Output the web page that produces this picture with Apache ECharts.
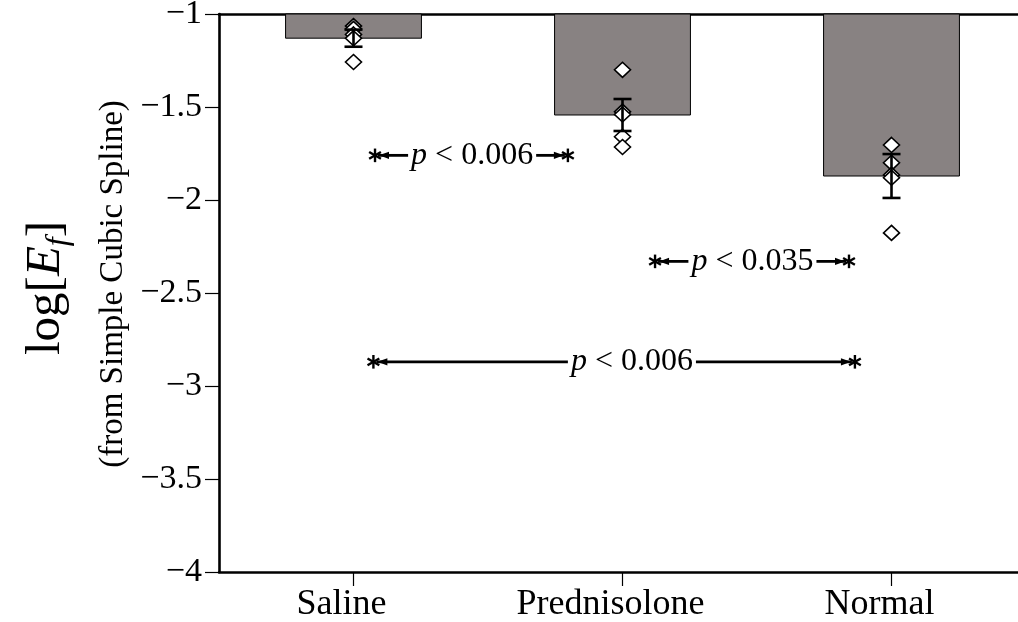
<!DOCTYPE html>
<html><head><meta charset="utf-8">
<script src="https://cdn.jsdelivr.net/npm/echarts@6/dist/echarts.min.js"></script>
<style>html,body{margin:0;padding:0;background:#fff}#c{width:1018px;height:622px}</style>
</head><body><div id="c"></div>
<script>
// ---- data ----
const categories = ['Saline', 'Prednisolone', 'Normal'];
const barMeans = [-1.13, -1.543, -1.871];
const semValues = [0.046, 0.086, 0.118];
const salinePoints = [-1.065, -1.08, -1.11, -1.13, -1.258];
const prednisolonePoints = [-1.30, -1.525, -1.54, -1.66, -1.715];
const normalPoints = [-1.704, -1.80, -1.865, -1.88, -2.177];
const yTickValues = [-4, -3.5, -3, -2.5, -2, -1.5, -1];
const pLabels = ['0.006', '0.035', '0.006'];
const pY = [-1.76, -2.33, -2.87];
const pLeft = [0.08, 1.121, 0.074];
const pRight = [0.797, 1.842, 1.864];
const pTextX = [0.441, 1.483, 1.035];

// ---- helpers ----
const FONT = 'Liberation Serif';
const mctx = document.createElement('canvas').getContext('2d');
function textW(s, f) { mctx.font = f; return mctx.measureText(s).width; }
function fmtTick(v) { return (v < 0 ? '\u2212' : '') + Math.abs(v); }

const pointSets = [salinePoints, prednisolonePoints, normalPoints];
const scatterData = [];
pointSets.forEach((arr, i) => arr.forEach(v => scatterData.push([i, v])));
const barData = barMeans.map((m, i) => [i, m]);
const errData = barMeans.map((m, i) => [i, m, semValues[i]]);
const pData = pLabels.map((l, i) => [pLeft[i], pRight[i], pY[i], pTextX[i]]);

const chart = echarts.init(document.getElementById('c'), null, {renderer: 'canvas'});
const axisColor = '#000';
const option = {
  animation: false,
  backgroundColor: '#fff',
  grid: {left: 219, top: 14, width: 807, bottom: 50, containLabel: false, outerBoundsMode: 'none'},
  xAxis: [{
    type: 'category',
    data: categories,
    position: 'bottom',
    axisLine: {show: true, lineStyle: {color: axisColor, width: 2.6}},
    axisTick: {show: true, alignWithLabel: true, interval: 0, length: 14, lineStyle: {color: axisColor, width: 1.2}},
    axisLabel: {color: '#000', fontFamily: FONT, fontSize: 36, margin: 15, interval: 0, padding: [0, 24, 0, 0]},
    splitLine: {show: false}
  }, {
    type: 'value',
    min: -0.5, max: 2.5,
    position: 'top',
    axisLine: {show: true, onZero: false, lineStyle: {color: axisColor, width: 2.6}},
    axisTick: {show: false},
    axisLabel: {show: false},
    splitLine: {show: false}
  }],
  yAxis: [{
    type: 'value',
    min: -4, max: -1, interval: 0.5,
    axisLine: {show: true, onZero: false, lineStyle: {color: axisColor, width: 2.6}},
    axisTick: {show: true, length: 14, lineStyle: {color: axisColor, width: 1.2}},
    axisLabel: {color: '#000', fontFamily: FONT, fontSize: 34, margin: 17,
      formatter: v => fmtTick(yTickValues.find(t => Math.abs(t - v) < 1e-9) ?? v)},
    splitLine: {show: false}
  }],
  graphic: [{
    type: 'text', x: 46, y: 288, rotation: Math.PI / 2,
    style: {
      text: '{a|log[}{b|E}{c|f}{a|]}',
      textAlign: 'center', textVerticalAlign: 'middle', align: 'center', verticalAlign: 'middle',
      fill: '#000',
      rich: {
        a: {fontFamily: FONT, fontSize: 49, lineHeight: 58, fill: '#000'},
        b: {fontFamily: FONT, fontSize: 49, fontStyle: 'italic', lineHeight: 58, fill: '#000'},
        c: {fontFamily: FONT, fontSize: 32, fontStyle: 'italic', lineHeight: 32, verticalAlign: 'bottom', fill: '#000'}
      }
    }
  }, {
    type: 'text', x: 113, y: 284, rotation: Math.PI / 2,
    style: {
      text: '(from Simple Cubic Spline)',
      textAlign: 'center', textVerticalAlign: 'middle', align: 'center', verticalAlign: 'middle',
      fill: '#000', font: '33px "' + FONT + '"'
    }
  }],
  series: [{
    type: 'custom',
    name: 'bars',
    xAxisIndex: 0, yAxisIndex: 0, z: 1,
    data: barData,
    encode: {x: 0, y: 1},
    renderItem: function (params, api) {
      const idx = api.value(0);
      const top = api.coord([idx, -1]);
      const bot = api.coord([idx, api.value(1)]);
      const bw = api.size([1, 0])[0] * 0.505;
      return {
        type: 'rect',
        shape: {x: top[0] - bw / 2, y: top[1], width: bw, height: bot[1] - top[1]},
        style: {fill: '#888282', stroke: '#000', lineWidth: 1}
      };
    }
  }, {
    type: 'scatter',
    name: 'points',
    xAxisIndex: 0, yAxisIndex: 0, z: 3,
    symbol: 'diamond',
    symbolSize: [16, 15],
    itemStyle: {color: '#fff', borderColor: '#000', borderWidth: 1.6, opacity: 1},
    data: scatterData
  }, {
    type: 'custom',
    name: 'errors',
    xAxisIndex: 0, yAxisIndex: 0, z: 4,
    data: errData,
    encode: {x: 0, y: 1},
    renderItem: function (params, api) {
      const idx = api.value(0), m = api.value(1), s = api.value(2);
      const hi = api.coord([idx, m + s]);
      const lo = api.coord([idx, m - s]);
      const cw = 9;
      const st = {stroke: '#000', lineWidth: 2.6};
      return {
        type: 'group',
        children: [
          {type: 'line', shape: {x1: hi[0], y1: hi[1], x2: lo[0], y2: lo[1]}, style: st},
          {type: 'line', shape: {x1: hi[0] - cw, y1: hi[1], x2: hi[0] + cw, y2: hi[1]}, style: st},
          {type: 'line', shape: {x1: lo[0] - cw, y1: lo[1], x2: lo[0] + cw, y2: lo[1]}, style: st}
        ]
      };
    }
  }, {
    type: 'custom',
    name: 'pvalues',
    xAxisIndex: 1, yAxisIndex: 0, z: 5,
    data: pData,
    encode: {x: [0, 1, 3], y: 2},
    renderItem: function (params, api) {
      const y = api.value(2);
      const L = api.coord([api.value(0), y]);
      const R = api.coord([api.value(1), y]);
      const T = api.coord([api.value(3), y]);
      const yy = L[1];
      const label = pLabels[params.dataIndex];
      const fs = 32;
      const tw = textW('p < ' + label, fs + 'px "' + FONT + '"');
      const tl = T[0] - tw / 2 - 3, tr = T[0] + tw / 2 + 3;
      const ls = {stroke: '#000', lineWidth: 2.8};
      const ss = {stroke: '#000', lineWidth: 2.4};
      function star(x) {
        const r = 6.8, dx = r * Math.cos(Math.PI / 6), dy = r * 0.5;
        return [
          {type: 'line', shape: {x1: x, y1: yy - r, x2: x, y2: yy + r}, style: ss},
          {type: 'line', shape: {x1: x - dx, y1: yy - dy, x2: x + dx, y2: yy + dy}, style: ss},
          {type: 'line', shape: {x1: x - dx, y1: yy + dy, x2: x + dx, y2: yy - dy}, style: ss}
        ];
      }
      const ah = 10, aw = 3.6;
      const children = [].concat(
        star(L[0]), star(R[0]),
        [
          {type: 'line', shape: {x1: L[0] + 3, y1: yy, x2: tl, y2: yy}, style: ls},
          {type: 'line', shape: {x1: tr, y1: yy, x2: R[0] - 3, y2: yy}, style: ls},
          {type: 'polygon', shape: {points: [[L[0] + 4, yy], [L[0] + 4 + ah, yy - aw], [L[0] + 4 + ah, yy + aw]]}, style: {fill: '#000'}},
          {type: 'polygon', shape: {points: [[R[0] - 4, yy], [R[0] - 4 - ah, yy - aw], [R[0] - 4 - ah, yy + aw]]}, style: {fill: '#000'}},
          {type: 'text', style: {
            text: '{i|p} < ' + label, x: T[0], y: yy,
            textAlign: 'center', textVerticalAlign: 'middle', align: 'center', verticalAlign: 'middle',
            fill: '#000', font: fs + 'px "' + FONT + '"',
            rich: {i: {fontStyle: 'italic', fontFamily: FONT, fontSize: fs, fill: '#000'}}
          }}
        ]
      );
      return {type: 'group', children: children};
    }
  }]
};
chart.setOption(option);
</script>
</body></html>
